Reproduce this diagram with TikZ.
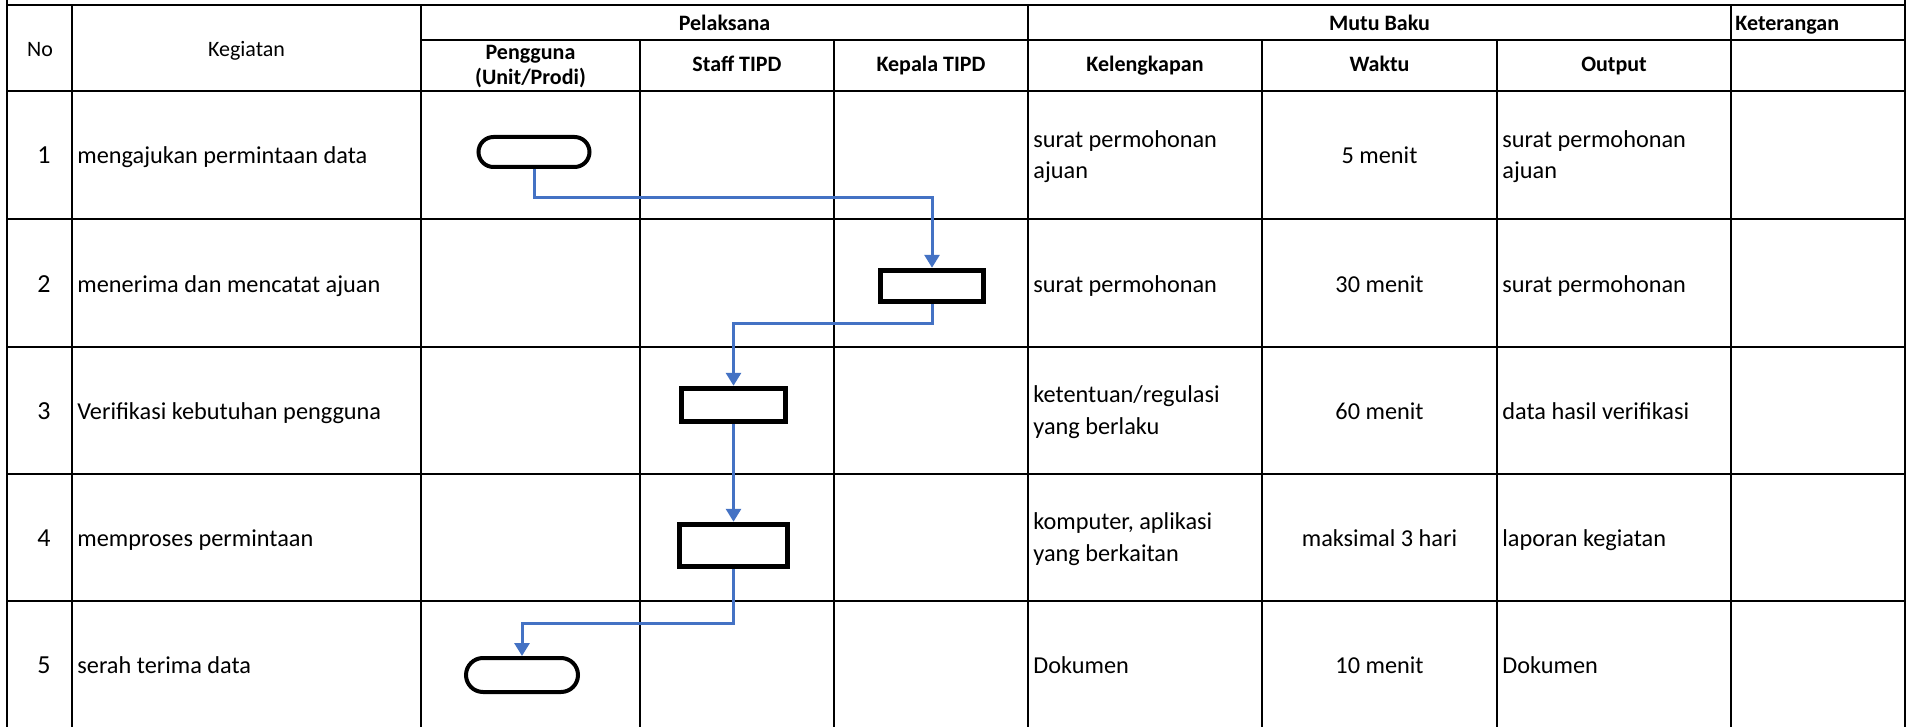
\documentclass[tikz,border=0pt]{standalone}
\usepackage{fontspec}
\setmainfont{Carlito}
\usetikzlibrary{arrows.meta,shapes.misc}
\definecolor{flowblue}{HTML}{4472C4}
\begin{document}
\begin{tikzpicture}[x=0.5pt,y=-0.5pt,
  grid/.style={line width=1.2pt,line cap=rect},
  hd/.style={font=\fontsize{11pt}{12.5pt}\selectfont\bfseries,align=center,inner sep=0pt,anchor=base},
  hdr/.style={font=\fontsize{11pt}{13pt}\selectfont,inner sep=0pt,anchor=base},
  body/.style={font=\fontsize{12.15pt}{15.75pt}\selectfont,inner sep=0pt,align=left,anchor=base west},
  bodyc/.style={font=\fontsize{12.15pt}{15.75pt}\selectfont,inner sep=0pt,anchor=base},
  num/.style={font=\fontsize{13pt}{15pt}\selectfont,inner sep=0pt,anchor=base},
  term/.style={draw,rounded rectangle,line width=2pt,inner sep=0pt},
  proc/.style={draw,rectangle,line width=2.75pt,inner sep=0pt},
  flow/.style={draw=flowblue,line width=1.5pt,-{Triangle[length=6.5pt,width=7.5pt]}}
]
\useasboundingbox (0,0) rectangle (1909,727);
\fill[white] (0,0) rectangle (1909,727);

% ---- table grid ----
\draw[grid] (7,0) -- (7,727);
\draw[grid] (1905,0) -- (1905,727);
\draw[grid] (7,5) -- (1905,5);
\draw[grid] (421,40) -- (1905,40);
\draw[grid] (7,91) -- (1905,91);
\foreach \yy in {219,347,474,601} \draw[grid] (7,\yy) -- (1905,\yy);
\foreach \xx in {72,421,1028,1731} \draw[grid] (\xx,5) -- (\xx,727);
\foreach \xx in {640,834,1262,1497} \draw[grid] (\xx,40) -- (\xx,727);

% ---- header ----
\node[hdr] (hNo) at (40,57) {No};
\node[hdr] (hKeg) at (246.5,57) {Kegiatan};
\node[hd] (hPel) at (724.5,31) {Pelaksana};
\node[hd] (hMutu) at (1379.5,31) {Mutu Baku};
\node[hd,anchor=base west] (hKet) at (1735,31) {Keterangan};
\node[hd] (hPeng) at (530.5,85) {Pengguna\\(Unit/Prodi)};
\node[hd] (hStaff) at (737,71.5) {Staff TIPD};
\node[hd] (hKepala) at (931,71.5) {Kepala TIPD};
\node[hd] (hKel) at (1145,71.5) {Kelengkapan};
\node[hd] (hWaktu) at (1379.5,71.5) {Waktu};
\node[hd] (hOut) at (1614,71.5) {Output};

% ---- rows ----
% row centres: 155, 283, 410.5, 537.5, 664.5
\node[num] (n1) at (44,164) {1};
\node[num] (n2) at (44,292) {2};
\node[num] (n3) at (44,419.5) {3};
\node[num] (n4) at (44,546.5) {4};
\node[num] (n5) at (44,673.5) {5};

\node[body] (k1) at (77,164) {mengajukan permintaan data};
\node[body] (k2) at (77,292) {menerima dan mencatat ajuan};
\node[body] (k3) at (77,419.5) {Verifikasi kebutuhan pengguna};
\node[body] (k4) at (77,546.5) {memproses permintaan};
\node[body] (k5) at (77,673.5) {serah terima data};

\node[body] (l1) at (1033,179) {surat permohonan\\ajuan};
\node[body] (l2) at (1033,292) {surat permohonan};
\node[body] (l3) at (1033,434) {ketentuan/regulasi\\yang berlaku};
\node[body] (l4) at (1033,561) {komputer, aplikasi\\yang berkaitan};
\node[body] (l5) at (1033,673.5) {Dokumen};

\node[bodyc] (w1) at (1379.5,164) {5 menit};
\node[bodyc] (w2) at (1379.5,292) {30 menit};
\node[bodyc] (w3) at (1379.5,419.5) {60 menit};
\node[bodyc] (w4) at (1379.5,546.5) {maksimal 3 hari};
\node[bodyc] (w5) at (1379.5,673.5) {10 menit};

\node[body] (o1) at (1502,179) {surat permohonan\\ajuan};
\node[body] (o2) at (1502,292) {surat permohonan};
\node[body] (o3) at (1502,419.5) {data hasil verifikasi};
\node[body] (o4) at (1502,546.5) {laporan kegiatan};
\node[body] (o5) at (1502,673.5) {Dokumen};

% ---- flow shapes ----
\node[term,minimum width=55.5pt,minimum height=15pt] (t1) at (534,152) {};
\node[proc,minimum width=51.5pt,minimum height=15.5pt] (r2) at (932,286) {};
\node[proc,minimum width=52pt,minimum height=16.5pt] (r3) at (733.5,405) {};
\node[proc,minimum width=54pt,minimum height=21pt] (r4) at (733.5,545.5) {};
\node[term,minimum width=56pt,minimum height=17pt] (t5) at (522,675) {};

% ---- connectors ----
\coordinate (c1) at (534,198);
\coordinate (c2) at (932,323);
\coordinate (c4) at (733.5,623);
\draw[flow] (t1.south) -- (c1) -| (r2.north);
\draw[flow] (r2.south) -- (c2) -| (r3.north);
\draw[flow] (r3.south) -- (r4.north);
\draw[flow] (r4.south) -- (c4) -| (t5.north);
\end{tikzpicture}
\end{document}
